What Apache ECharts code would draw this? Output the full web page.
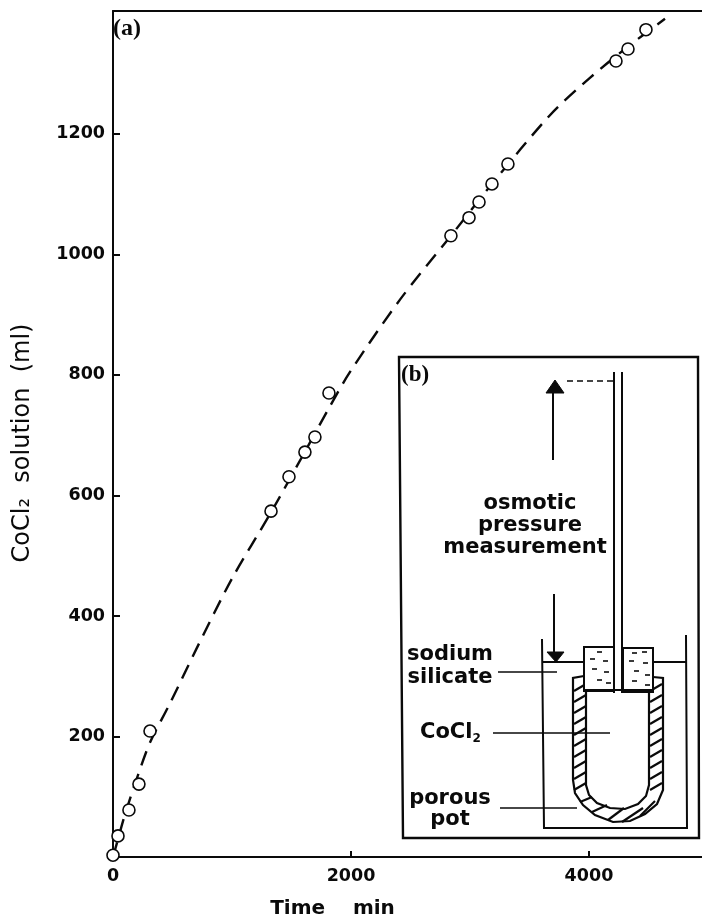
<!DOCTYPE html>
<html><head><meta charset="utf-8">
<style>html,body{margin:0;padding:0;background:#fff}#c{width:702px;height:920px}</style>
<script src="https://cdn.jsdelivr.net/npm/echarts@6/dist/echarts.min.js"></script>
</head><body><div id="c"></div>
<script>
// Measured points (time in min, volume in ml)
const pointTimes = [0,42,134,218,311,1328,1479,1613,1697,1815,2840,2992,3076,3185,3319,4227,4328,4479];
const pointVolumes = [3,35,78,121,209,574,631,672,697,770,1031,1061,1087,1117,1150,1321,1341,1373];
// Dashed curve
const curveTimes = [0,40,100,200,311,479,700,1000,1328,1600,1815,1992,2412,2840,3185,3672,4008,4328,4639];
const curveVolumes = [0,28,70,130,190,255,345,462,572,668,745,805,925,1031,1117,1231,1293,1345,1391];
const xTicks = [0,2000,4000];
const yTicks = [200,400,600,800,1000,1200];

const ink = '#0a0a0a';
const line = (x1,y1,x2,y2,w=1.6,extra={}) => ({type:'line',silent:true,shape:{x1,y1,x2,y2},style:{stroke:ink,lineWidth:w,...extra}});
const poly = (points,w=2,fill=null) => ({type:fill?'polygon':'polyline',silent:true,shape:{points},style:{stroke:ink,lineWidth:w,fill:fill||'none'}});
const text = (t,x,y,font,align='center') => ({type:'text',silent:true,x,y,style:{text:t,font,fill:ink,align,verticalAlign:'middle'}});

const insetFont = '600 21px "DejaVu Sans"';
const els = [];
// inset frame
els.push({type:'polygon',silent:true,shape:{points:[[399,357],[698,357],[699,838],[403,838]]},style:{fill:'#fff',stroke:ink,lineWidth:2.4}});
// beaker
els.push(poly([[542,639],[544,828],[687,828],[686,635]],2));
els.push(line(542,662,584,662,2), line(653,662,686,662,2));
// pot outer and inner
const potOuter = [[584,676],[573,678],[573,780],[575,793],[583,805],[595,815],[613,822],[630,821],[645,814],[657,804],[663,790],[663,678],[653,677]];
const potInner = [[586,690],[586,785],[589,795],[597,803],[610,808],[625,809],[638,804],[646,796],[649,785],[649,693]];
els.push(poly(potOuter,2.2), poly(potInner,2.2));
// hatching in the walls
[686,697,708,719,730,741,752,763,774,785].forEach(y=>{
  els.push(line(574,y+5,586,y-2,2.2));
  els.push(line(650,y+5,662,y-2,2.2));
});
[[580,802,592,797],[592,812,607,805],[608,820,624,808],[622,822,643,808],[640,816,655,801]].forEach(h=>els.push(line(h[0],h[1],h[2],h[3],2.2)));
// stopper
els.push({type:'rect',silent:true,shape:{x:584,y:647,width:30,height:44},style:{fill:'#fff',stroke:ink,lineWidth:2}});
els.push({type:'rect',silent:true,shape:{x:623,y:648,width:30,height:44},style:{fill:'#fff',stroke:ink,lineWidth:2}});
[[597,652],[590,659],[603,661],[592,669],[604,672],[597,680],[606,683],[632,653],[642,652],[629,661],[643,663],[634,671],[645,675],[632,681],[645,685]].forEach(d=>els.push(line(d[0],d[1],d[0]+5,d[1],1.6)));
els.push(line(584,690,653,690,2));
// tube
els.push(line(614,372,614,693,2), line(622,372,622,693,2));
// pressure arrows
els.push(line(553,390,553,460,2));
els.push({type:'polygon',silent:true,shape:{points:[[555,380],[546,393],[564,393]]},style:{fill:ink,stroke:ink,lineWidth:1}});
els.push(line(567,381,613,381,1.6,{lineDash:[6,4]}));
els.push(line(554,594,554,653,2));
els.push({type:'polygon',silent:true,shape:{points:[[547,652],[564,652],[556,662]]},style:{fill:ink,stroke:ink,lineWidth:1}});
// leader lines
els.push(line(498,672,557,672,1.6), line(493,733,610,733,1.6), line(500,808,577,808,1.6));
// inset labels
els.push(text('osmotic',530,504,insetFont), text('pressure',530,526,insetFont), text('measurement',525,548,insetFont));
els.push(text('sodium',450,655,insetFont), text('silicate',450,678,insetFont));
els.push(text('porous',450,799,insetFont), text('pot',450,820,insetFont));
els.push({type:'text',silent:true,x:420,y:733,style:{text:'{a|CoCl}{b|2}',verticalAlign:'middle',rich:{a:{font:insetFont,fill:ink},b:{font:'600 12px "DejaVu Sans"',fill:ink,padding:[12,0,0,0]}}}});
els.push(text('(b)',401,375,'bold 23px "Liberation Serif"','left'));
els.push(text('(a)',113,29,'bold 24px "Liberation Serif"','left'));

const axisStyle = {lineStyle:{color:ink,width:2}};
const labelFont = {fontFamily:'DejaVu Sans',fontWeight:'bold',fontSize:17.5,color:ink};
const chart = echarts.init(document.getElementById('c'),null,{renderer:'canvas'});
chart.setOption({
  animation:false,
  backgroundColor:'#fff',
  grid:{left:113,right:0,top:11,bottom:63,outerBoundsMode:'none'},
  xAxis:[{
    type:'value',min:0,max:4950,name:'Time    min',nameLocation:'middle',nameGap:42,
    nameTextStyle:{...labelFont,fontSize:20,padding:[0,150,0,0]},
    axisLine:{show:true,...axisStyle},
    axisTick:{show:true,inside:true,length:6,customValues:xTicks,lineStyle:{color:ink,width:2}},
    axisLabel:{...labelFont,margin:10,customValues:xTicks,formatter:v=>String(v)},
    splitLine:{show:false}
  },{
    type:'value',position:'top',min:0,max:4950,
    axisLine:{show:true,onZero:false,...axisStyle},axisTick:{show:false},axisLabel:{show:false},splitLine:{show:false}
  }],
  yAxis:{
    type:'value',min:0,max:1404,name:'CoCl₂  solution  (ml)',nameLocation:'middle',nameGap:78,
    nameTextStyle:{...labelFont,fontSize:24,fontWeight:500,padding:[0,18,0,0]},
    axisLine:{show:true,...axisStyle},
    axisTick:{show:true,inside:true,length:7,customValues:yTicks,lineStyle:{color:ink,width:2}},
    axisLabel:{...labelFont,margin:8,customValues:yTicks,formatter:v=>String(v)},
    splitLine:{show:false}
  },
  series:[{
    type:'line',name:'fit',data:curveTimes.map((t,i)=>[t,curveVolumes[i]]),smooth:0.3,showSymbol:false,clip:false,
    lineStyle:{color:ink,width:2.4,type:[15,9]},z:2
  },{
    type:'scatter',name:'measured',data:pointTimes.map((t,i)=>[t,pointVolumes[i]]),symbol:'circle',symbolSize:12,clip:false,
    itemStyle:{color:'#fff',borderColor:ink,borderWidth:1.6,opacity:1},z:3
  }],
  graphic:{elements:els}
});
</script></body></html>
